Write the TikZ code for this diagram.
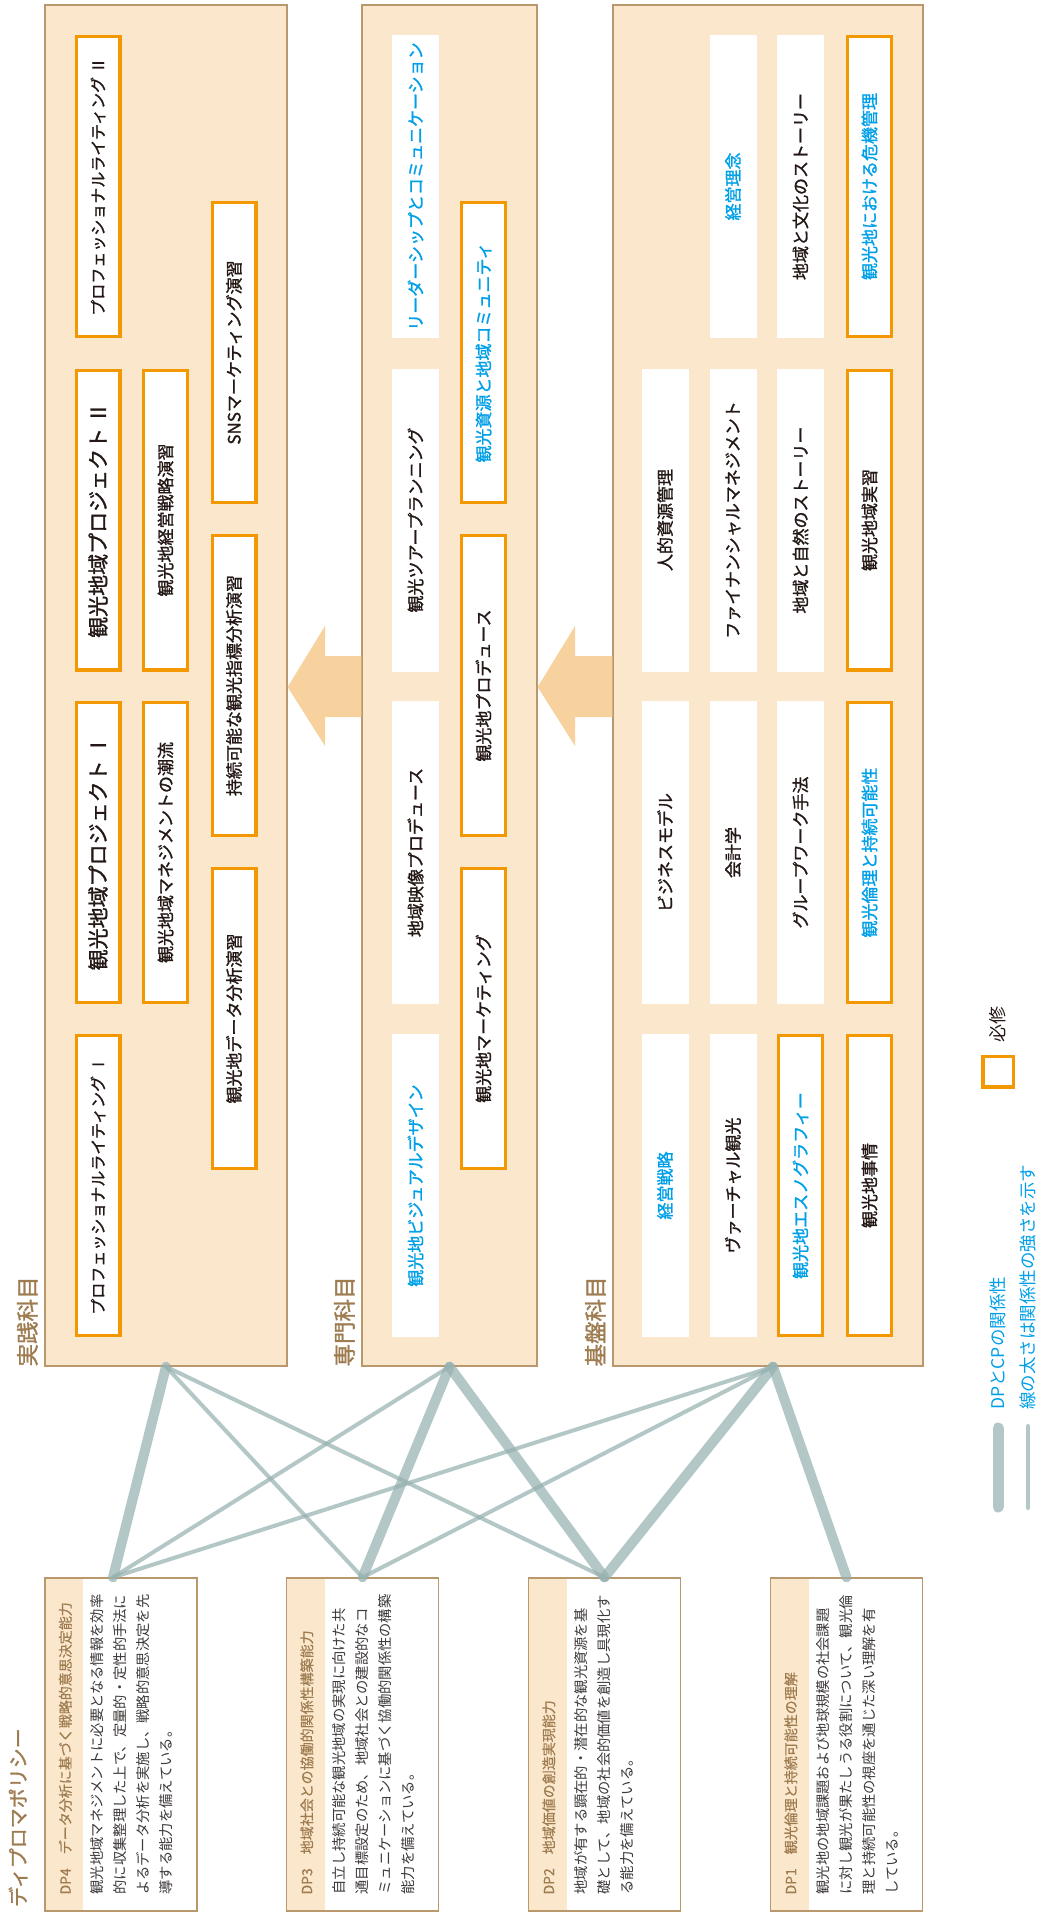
\documentclass[tikz,border=0pt]{standalone}
\usepackage{fontspec}
\setmainfont{Noto Sans CJK JP}
\newfontfamily\medfont{Noto Sans CJK JP}[FakeBold=1.3]
\newfontfamily\headfont{Noto Sans CJK JP}[FakeBold=0.5]
\usetikzlibrary{calc}

\definecolor{peach}{RGB}{251,231,204}
\definecolor{frame}{RGB}{184,152,108}
\definecolor{labelbrown}{RGB}{158,124,80}
\definecolor{reqorange}{RGB}{243,152,0}
\definecolor{cpblue}{RGB}{0,160,233}
\definecolor{ink}{RGB}{35,24,21}
\definecolor{bodyink}{RGB}{62,58,57}
\definecolor{arrowfill}{RGB}{248,210,158}
\definecolor{linkc}{RGB}{150,178,177}

\begin{document}
\begin{tikzpicture}[x=1pt,y=-1pt,
  grp/.style={draw=frame, fill=peach, line width=1.3pt, inner sep=0pt},
  crs/.style={rotate=90, fill=white, inner sep=0pt, minimum width=303pt, minimum height=47pt,
    text=ink, font=\medfont\fontsize{17pt}{17pt}\selectfont},
  req/.style={draw=reqorange, line width=3.2pt, minimum width=299.8pt, minimum height=43.8pt},
  blu/.style={text=cpblue},
  big/.style={font=\medfont\fontsize{21pt}{21pt}\selectfont},
  mid/.style={font=\medfont\fontsize{16pt}{16pt}\selectfont},
  glabel/.style={rotate=90, anchor=west, inner sep=0pt, text=labelbrown,
    font=\medfont\fontsize{22.5pt}{22.5pt}\selectfont},
  dpbox/.style={draw=frame, fill=white, line width=1.3pt, inner sep=0pt,
    minimum width=152pt, minimum height=333pt,
    path picture={\fill[peach] (path picture bounding box.north west) rectangle
      ([xshift=38pt]path picture bounding box.south west);}},
  dphead/.style={rotate=90, anchor=west, inner sep=0pt, text=labelbrown,
    font=\headfont\fontsize{14pt}{14pt}\selectfont},
  dpline/.style={rotate=90, anchor=west, inner sep=0pt, text=bodyink,
    font=\fontsize{14.3pt}{14.3pt}\selectfont},
  link/.style={draw=linkc, draw opacity=0.72, line cap=round},
  strong/.style={link, line width=10pt},
  weak/.style={link, line width=4pt},
  blockarrow/.style={fill=arrowfill}
]
\useasboundingbox[fill=white] (0,0) rectangle (1041,1921);

% ---------- curriculum groups ----------
\node[grp, minimum width=242pt, minimum height=1361pt] (jissen) at (166,685.5) {};
\node[grp, minimum width=175pt, minimum height=1361pt] (senmon) at (449.5,685.5) {};
\node[grp, minimum width=310pt, minimum height=1361pt] (kiban)  at (768,685.5) {};

\node[glabel] (ljissen) at ([xshift=-17pt]jissen.south west) {実践科目};
\node[glabel] (lsenmon) at ([xshift=-17pt]senmon.south west) {専門科目};
\node[glabel] (lkiban)  at ([xshift=-17pt]kiban.south west)  {基盤科目};

% ---------- block arrows between groups ----------
\fill[blockarrow] (senmon.west |- 0,656) -- (325,656) -- (325,626) -- (jissen.east |- 0,687)
  -- (325,746) -- (325,717) -- (senmon.west |- 0,717) -- cycle;
\fill[blockarrow] (kiban.west |- 0,656) -- (575,656) -- (575,626) -- (senmon.east |- 0,687)
  -- (575,746) -- (575,717) -- (kiban.west |- 0,717) -- cycle;

% ---------- 実践科目 ----------
\node[crs, req, mid] (j11) at (98,186.5)  {プロフェッショナルライティング Ⅱ};
\node[crs, req, big] (j12) at (98,520)    {観光地域プロジェクト Ⅱ};
\node[crs, req, big] (j13) at (98,852.5)  {観光地域プロジェクト Ⅰ};
\node[crs, req, mid] (j14) at (98,1185.5) {プロフェッショナルライティング Ⅰ};
\node[crs, req] (j22) at (165.5,520)   {観光地経営戦略演習};
\node[crs, req] (j23) at (165.5,852.5) {観光地域マネジメントの潮流};
\node[crs, req] (j31) at (234,352.5)   {SNSマーケティング演習};
\node[crs, req] (j32) at (234,685.5)   {持続可能な観光指標分析演習};
\node[crs, req] (j33) at (234,1018.5)  {観光地データ分析演習};

% ---------- 専門科目 ----------
\node[crs, blu] (s11) at (415.5,186.5)  {リーダーシップとコミュニケーション};
\node[crs]      (s12) at (415.5,520)    {観光ツアープランニング};
\node[crs]      (s13) at (415.5,852.5)  {地域映像プロデュース};
\node[crs, blu] (s14) at (415.5,1185.5) {観光地ビジュアルデザイン};
\node[crs, req, blu] (s21) at (483.5,352.5)  {観光資源と地域コミュニティ};
\node[crs, req]      (s22) at (483.5,685.5)  {観光地プロデュース};
\node[crs, req]      (s23) at (483.5,1018.5) {観光地マーケティング};

% ---------- 基盤科目 ----------
\node[crs]      (k12) at (665,520)    {人的資源管理};
\node[crs]      (k13) at (665,852.5)  {ビジネスモデル};
\node[crs, blu] (k14) at (665,1185.5) {経営戦略};
\node[crs, blu] (k21) at (733,186.5)  {経営理念};
\node[crs]      (k22) at (733,520)    {ファイナンシャルマネジメント};
\node[crs]      (k23) at (733,852.5)  {会計学};
\node[crs]      (k24) at (733,1185.5) {ヴァーチャル観光};
\node[crs]      (k31) at (800.5,186.5)  {地域と文化のストーリー};
\node[crs]      (k32) at (800.5,520)    {地域と自然のストーリー};
\node[crs]      (k33) at (800.5,852.5)  {グループワーク手法};
\node[crs, req, blu] (k34) at (800.5,1185.5) {観光地エスノグラフィー};
\node[crs, req, blu] (k41) at (869.5,186.5)  {観光地における危機管理};
\node[crs, req]      (k42) at (869.5,520)    {観光地域実習};
\node[crs, req, blu] (k43) at (869.5,852.5)  {観光倫理と持続可能性};
\node[crs, req]      (k44) at (869.5,1185.5) {観光地事情};

% ---------- diploma policies ----------
\node[glabel, font=\medfont\fontsize{20pt}{20pt}\selectfont] (ldp) at (18,1907) {ディプロマポリシー};

\node[dpbox] (dp4) at (121,1744.5) {};
\node[dpbox] (dp3) at (362.5,1744.5) {};
\node[dpbox] (dp2) at (604.5,1744.5) {};
\node[dpbox] (dp1) at (846.5,1744.5) {};

\node[dphead] (h4) at ($(dp4.south west)+(21,-17)$) {DP4　データ分析に基づく戦略的意思決定能力};
\node[dpline] (t41) at ($(dp4.south west)+(53,-17)$) {観光地域マネジメントに必要となる情報を効率};
\node[dpline] (t42) at ($(dp4.south west)+(76,-17)$) {的に収集整理した上で、定量的・定性的手法に};
\node[dpline] (t43) at ($(dp4.south west)+(99,-17)$) {よるデータ分析を実施し、戦略的意思決定を先};
\node[dpline] (t44) at ($(dp4.south west)+(122,-17)$) {導する能力を備えている。};

\node[dphead] (h3) at ($(dp3.south west)+(21,-17)$) {DP3　地域社会との協働的関係性構築能力};
\node[dpline] (t31) at ($(dp3.south west)+(53,-17)$) {自立し持続可能な観光地域の実現に向けた共};
\node[dpline] (t32) at ($(dp3.south west)+(76,-17)$) {通目標設定のため、地域社会との建設的なコ};
\node[dpline] (t33) at ($(dp3.south west)+(99,-17)$) {ミュニケーションに基づく協働的関係性の構築};
\node[dpline] (t34) at ($(dp3.south west)+(122,-17)$) {能力を備えている。};

\node[dphead] (h2) at ($(dp2.south west)+(21,-17)$) {DP2　地域価値の創造実現能力};
\node[dpline] (t21) at ($(dp2.south west)+(53,-17)$) {地域が有する顕在的・潜在的な観光資源を基};
\node[dpline] (t22) at ($(dp2.south west)+(76,-17)$) {礎として、地域の社会的価値を創造し具現化す};
\node[dpline] (t23) at ($(dp2.south west)+(99,-17)$) {る能力を備えている。};

\node[dphead] (h1) at ($(dp1.south west)+(21,-17)$) {DP1　観光倫理と持続可能性の理解};
\node[dpline] (t11) at ($(dp1.south west)+(53,-17)$) {観光地の地域課題および地球規模の社会課題};
\node[dpline] (t12) at ($(dp1.south west)+(76,-17)$) {に対し観光が果たしうる役割について、観光倫};
\node[dpline] (t13) at ($(dp1.south west)+(99,-17)$) {理と持続可能性の視座を通じた深い理解を有};
\node[dpline] (t14) at ($(dp1.south west)+(122,-17)$) {している。};

% ---------- DP–CP relations ----------
\draw[strong] (jissen.south) -- ([xshift=-8pt]dp4.north);
\draw[weak]   (jissen.south) -- (dp3.north);
\draw[weak]   (jissen.south) -- (dp2.north);
\draw[weak]   (senmon.south) -- ([xshift=-8pt]dp4.north);
\draw[strong] (senmon.south) -- (dp3.north);
\draw[strong] (senmon.south) -- (dp2.north);
\draw[weak]   ([xshift=5pt]kiban.south) -- ([xshift=-8pt]dp4.north);
\draw[weak]   ([xshift=5pt]kiban.south) -- (dp3.north);
\draw[strong] ([xshift=5pt]kiban.south) -- (dp2.north);
\draw[strong] ([xshift=5pt]kiban.south) -- (dp1.north);

% ---------- legend ----------
\node[draw=reqorange, line width=3.5pt, fill=white, minimum size=30.5pt, inner sep=0pt] (reqkey) at (998,1071.5) {};
\node[rotate=90, anchor=west, inner sep=0pt, text=ink, font=\fontsize{18pt}{18pt}\selectfont] (reqtxt) at ([yshift=12pt]reqkey.north) {必修};

\coordinate (ka) at (998,1428);
\coordinate (kb) at (998,1507);
\coordinate (kc) at (1028,1426);
\coordinate (kd) at (1028,1508);
\draw[link, line width=11pt] (ka) -- (kb);
\draw[link, line width=4pt] (kc) -- (kd);
\node[rotate=90, anchor=west, inner sep=0pt, text=cpblue, font=\fontsize{17.5pt}{17.5pt}\selectfont] (key1) at (998,1410) {DPとCPの関係性};
\node[rotate=90, anchor=west, inner sep=0pt, text=cpblue, font=\fontsize{17.5pt}{17.5pt}\selectfont] (key2) at (1028,1410) {線の太さは関係性の強さを示す};
\end{tikzpicture}
\end{document}
